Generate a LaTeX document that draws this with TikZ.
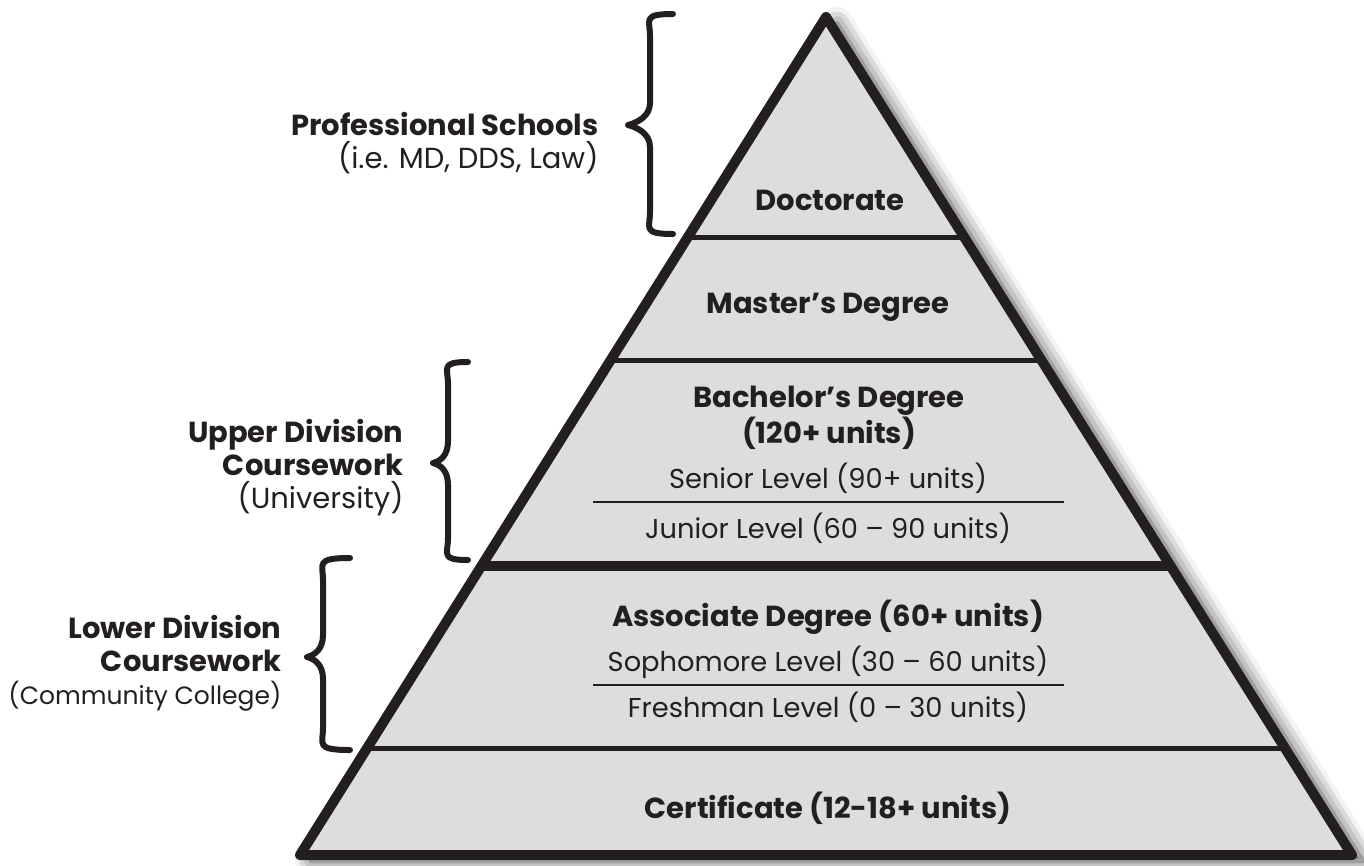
\documentclass[tikz,border=0pt]{standalone}
\usepackage{fontspec}
\setmainfont{Poppins}
\usetikzlibrary{shadows.blur}
\definecolor{ink}{HTML}{231F20}
\definecolor{stone}{HTML}{DCDDDF}
\tikzset{every picture/.style={x=1pt,y=-1pt},
head/.style={text=ink,font=\fontsize{29}{33}\selectfont\bfseries,align=center},
sub/.style={text=ink,font=\fontsize{27.3}{30}\selectfont,align=center},
side/.style={text=ink,font=\fontsize{29}{33}\selectfont,align=right,anchor=east},
curl/.style={draw=ink,line width=6pt,line cap=round,line join=round}}
% brace: end x, stem x, tip x, top y, tip y, bottom y
\newcommand{\curly}[6]{%
\draw[curl] (#1,#4) .. controls (#2-8,#4) and (#2,#4+6) .. (#2,#4+22) -- (#2,#5-22)
.. controls (#2,#5-8) and (#3+8,#5-2) .. (#3,#5)
.. controls (#3+8,#5+2) and (#2,#5+8) .. (#2,#5+22) -- (#2,#6-22)
.. controls (#2,#6-6) and (#2-8,#6) .. (#1,#6);}

\begin{document}
\begin{tikzpicture}
\useasboundingbox (0,0) rectangle (1364,865);

\coordinate (apex) at (826,17);
\coordinate (bl) at (300,855);
\coordinate (br) at (1352,855);

\fill[stone,blur shadow={shadow xshift=11pt,shadow yshift=-6pt,shadow blur radius=16pt,shadow opacity=75}] (apex) -- (br) -- (bl) -- cycle;
\begin{scope}
\clip (apex) -- (br) -- (bl) -- cycle;
\foreach \y in {237, 360, 748} {
\draw[ink,line width=5pt] (250,\y) -- (1400,\y);
}
\draw[ink,line width=10pt] (250,566) -- (1400,566);
\end{scope}
\draw[ink,line width=10pt,line join=round] (apex) -- (br) -- (bl) -- cycle;

\draw[ink,line width=1.4pt] (593,502) -- (1064,502);
\draw[ink,line width=1.4pt] (593,685) -- (1064,685);

\node[head] (doc) at (830,200) {Doctorate};
\node[head] (mas) at (828,307) {Master’s Degree};
\node[head] (bach) at (829,418) {Bachelor’s Degree\\(120+ units)};
\node[sub] (sen) at (828,478) {Senior Level (90+ units)};
\node[sub] (jun) at (828,528) {Junior Level (60 – 90 units)};
\node[head] (asc) at (828,617) {Associate Degree (60+ units)};
\node[sub] (sop) at (828,662) {Sophomore Level (30 – 60 units)};
\node[sub] (fre) at (828,707) {Freshman Level (0 – 30 units)};
\node[head] (cert) at (828,808) {Certificate (12-18+ units)};

\node[side] (prof) at (602,143) {{\bfseries Professional Schools}\\(i.e. MD, DDS, Law)};
\node[side] (upper) at (407,468) {{\bfseries Upper Division}\\{\bfseries Coursework}\\(University)};
\node[side] (lower) at (285,663) {{\bfseries Lower Division}\\{\bfseries Coursework}\\{\fontsize{25}{33}\selectfont(Community College)}};

\curly{673}{650}{628}{14}{125}{234}
\curly{468}{448}{433}{362}{463}{560}
\curly{350}{323}{307}{558}{657}{750}
\end{tikzpicture}
\end{document}
